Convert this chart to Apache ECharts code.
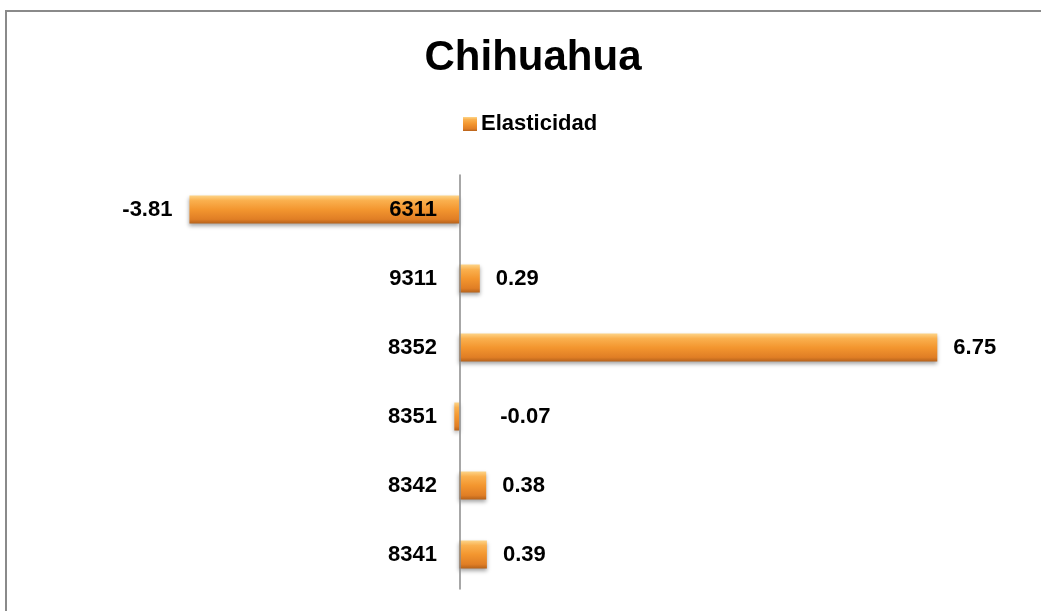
<!DOCTYPE html>
<html>
<head>
<meta charset="utf-8">
<script src="https://cdn.jsdelivr.net/npm/echarts@6/dist/echarts.min.js"></script>
<style>
  html, body { margin: 0; padding: 0; background: #fff; }
  #chart_box { width: 1041px; height: 611px; }
</style>
</head>
<body>
<div id="chart_box"></div>
<script>
// categorias (de abajo hacia arriba) y valores de elasticidad
var comName = ['8341', '8342', '8351', '8352', '9311', '6311'];
var elasValue = [0.39, 0.38, -0.07, 6.75, 0.29, -3.81];
var seriesName = 'Elasticidad';
var titleText = 'Chihuahua';

var myChart_box = echarts.init(document.getElementById('chart_box'));

var barColor = new echarts.graphic.LinearGradient(0, 0, 0, 1, [
    {offset: 0, color: '#FDD488'},
    {offset: 0.18, color: '#FAB04E'},
    {offset: 0.5, color: '#F3962F'},
    {offset: 0.85, color: '#E07E25'},
    {offset: 1, color: '#B5621B'}
]);

// etiqueta de cada barra: positivas a la derecha, -3.81 a la izquierda, -0.07 a la derecha
var barData = [];
for (var i = 0; i < elasValue.length; i++) {
    var item = {value: elasValue[i], label: {position: 'right', distance: 16}};
    if (elasValue[i] < -1) {
        item.label = {position: 'left', distance: 17};
    } else if (elasValue[i] < 0) {
        item.label = {position: 'right', distance: 41};
    }
    barData.push(item);
}

var optionbox = {
    backgroundColor: '#fff',
    textStyle: {fontFamily: 'Arial, "Liberation Sans", sans-serif'},
    graphic: [{
        type: 'rect',
        shape: {x: 6, y: 11, width: 1100, height: 700},
        style: {fill: 'none', stroke: '#8a8a8a', lineWidth: 2},
        silent: true
    }],
    title: {
        text: titleText,
        left: 528,
        textAlign: 'center',
        top: 32,
        textStyle: {fontSize: 42, fontWeight: 'bold', color: '#000', fontFamily: 'Arial, "Liberation Sans", sans-serif'}
    },
    legend: {
        data: [seriesName],
        left: 463,
        top: 113,
        padding: 0,
        icon: 'rect',
        itemWidth: 14,
        itemHeight: 14,
        itemGap: 5,
        textStyle: {fontSize: 22, fontWeight: 'bold', color: '#000', padding: [0, 0, 0, -1]}
    },
    grid: {
        left: 176,
        right: 86,
        top: 175,
        bottom: 22,
        containLabel: false
    },
    xAxis: {
        type: 'value',
        min: -4,
        max: 7,
        interval: 1,
        axisLine: {show: false},
        axisTick: {show: false},
        axisLabel: {show: false},
        splitLine: {show: false}
    },
    yAxis: {
        type: 'category',
        z: 3,
        data: comName,
        axisLine: {
            onZero: true,
            lineStyle: {color: '#8a8a8a', width: 1.5}
        },
        axisTick: {show: false},
        axisLabel: {
            // las etiquetas quedan junto al eje en cero (x=459), no en el borde del grid
            margin: -261,
            fontSize: 22,
            fontWeight: 'bold',
            color: '#000'
        }
    },
    series: [
        {
            name: seriesName,
            type: 'bar',
            barWidth: 28,
            data: barData,
            itemStyle: {
                color: barColor,
                shadowColor: 'rgba(0,0,0,0.35)',
                shadowBlur: 4,
                shadowOffsetY: 2
            },
            label: {
                show: true,
                fontSize: 22,
                fontWeight: 'bold',
                color: '#000',
                formatter: function (p) { return p.value.toFixed(2); }
            }
        }
    ]
};

myChart_box.setOption(optionbox);
window.onresize = function () {
    myChart_box.resize();
};
</script>
</body>
</html>
